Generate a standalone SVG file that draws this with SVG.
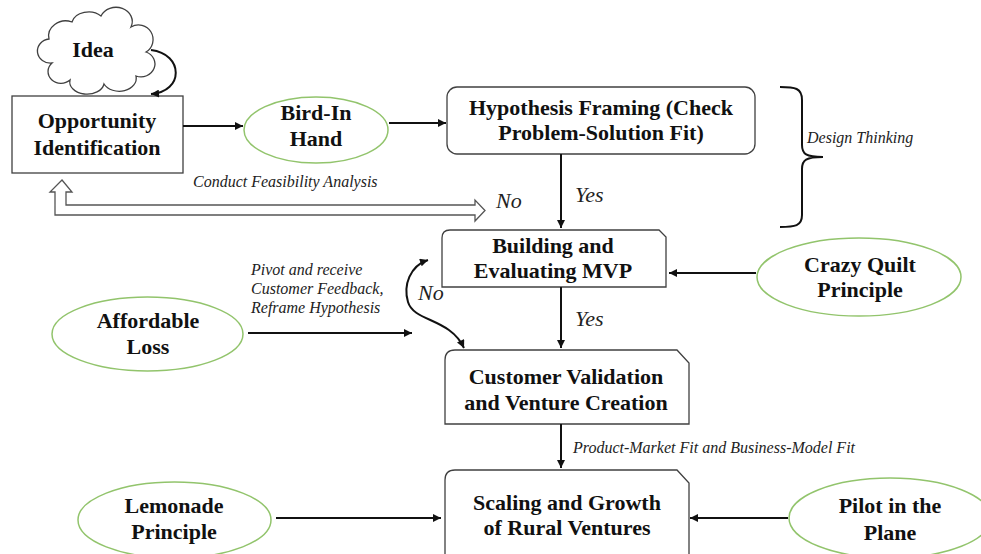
<svg xmlns="http://www.w3.org/2000/svg" width="981" height="554" viewBox="0 0 981 554">
  <style>
    .box { fill: #ffffff; stroke: #404040; stroke-width: 1.3; }
    .oval { fill: #ffffff; stroke: #92c46c; stroke-width: 1.5; }
    .lbl { font-family: "Liberation Serif", "Times New Roman", serif; font-weight: bold; font-size: 22px; fill: #111111; text-anchor: middle; }
    .note { font-family: "Liberation Serif", "Times New Roman", serif; font-style: italic; font-size: 16px; fill: #222222; }
    .big { font-family: "Liberation Serif", "Times New Roman", serif; font-style: italic; font-size: 22px; fill: #222222; }
    .wire { fill: none; stroke: #111111; stroke-width: 2; }
  </style>
  <defs>
    <marker id="ah" viewBox="0 0 10 10" refX="10" refY="5" markerWidth="9" markerHeight="8" markerUnits="userSpaceOnUse" orient="auto-start-reverse">
      <path d="M0,0 L10,5 L0,10 z" fill="#111111"/>
    </marker>
  </defs>

  <rect width="981" height="554" fill="#ffffff"/>

  <!-- Idea cloud -->
  <g id="idea">
    <path class="box" d="M 52 63 A 13 12 0 0 1 49 39 A 17 15 0 0 1 72 22 A 17 13 0 0 1 101 16 A 16 14 0 0 1 131 27 A 14 14 0 0 1 146 52 A 13 12 0 0 1 136 76 A 17 13 0 0 1 104 84 A 17 12 0 0 1 70 80 A 11 10 0 0 1 52 63 Z"/>
    <text class="lbl" x="93" y="57">Idea</text>
  </g>

  <g id="opportunity">
    <rect class="box" x="12" y="96" width="171" height="77"/>
    <text class="lbl" x="97" y="128">Opportunity</text>
    <text class="lbl" x="97" y="155">Identification</text>
  </g>

  <g id="bird-in-hand">
    <ellipse class="oval" cx="316" cy="130" rx="72" ry="33"/>
    <text class="lbl" x="316" y="120">Bird-In</text>
    <text class="lbl" x="316" y="146">Hand</text>
  </g>

  <g id="hypothesis">
    <rect class="box" x="447" y="87" width="308" height="67" rx="10"/>
    <text class="lbl" x="601" y="115">Hypothesis Framing (Check</text>
    <text class="lbl" x="601" y="140">Problem-Solution Fit)</text>
  </g>

  <g id="design-thinking">
    <path fill="none" stroke="#111111" stroke-width="2" d="M 780 87 C 795 87 802 88 802 100 L 802 145 C 802 154 806 157 823 157 C 806 157 802 160 802 169 L 802 215 C 802 226 795 227 780 227"/>
    <text class="note" x="807" y="143">Design Thinking</text>
  </g>

  <g id="mvp">
    <path class="box" d="M 442 287 L 442 238 Q 442 230 450 230 L 659 230 L 666 237 L 666 287 Z"/>
    <text class="lbl" x="553" y="253">Building and</text>
    <text class="lbl" x="553" y="278">Evaluating MVP</text>
  </g>

  <g id="crazy-quilt">
    <ellipse class="oval" cx="859" cy="277" rx="102" ry="39"/>
    <text class="lbl" x="860" y="272">Crazy Quilt</text>
    <text class="lbl" x="860" y="297">Principle</text>
  </g>

  <g id="affordable-loss">
    <ellipse class="oval" cx="147.5" cy="334" rx="95.5" ry="37"/>
    <text class="lbl" x="148" y="328">Affordable</text>
    <text class="lbl" x="148" y="354">Loss</text>
  </g>

  <g id="customer-validation">
    <path class="box" d="M 445 424 L 445 360 Q 445 350 455 350 L 677 350 L 689 363 L 689 424 Z"/>
    <text class="lbl" x="566" y="384">Customer Validation</text>
    <text class="lbl" x="566" y="410">and Venture Creation</text>
  </g>

  <g id="scaling">
    <path class="box" d="M 445 560 L 445 480 Q 445 470 455 470 L 677 470 L 689 483 L 689 560 Z"/>
    <text class="lbl" x="567" y="510">Scaling and Growth</text>
    <text class="lbl" x="567" y="535">of Rural Ventures</text>
  </g>

  <g id="lemonade">
    <ellipse class="oval" cx="174.5" cy="520" rx="96.5" ry="38"/>
    <text class="lbl" x="174" y="513">Lemonade</text>
    <text class="lbl" x="174" y="539">Principle</text>
  </g>

  <g id="pilot">
    <ellipse class="oval" cx="890" cy="518" rx="101" ry="40"/>
    <text class="lbl" x="890" y="513">Pilot in the</text>
    <text class="lbl" x="890" y="540">Plane</text>
  </g>

  <!-- connectors -->
  <g id="connectors">
    <path class="wire" d="M 151 50 C 184 54 184 92 151 94" marker-end="url(#ah)"/>
    <path class="wire" d="M 183 126 H 243" marker-end="url(#ah)"/>
    <path class="wire" d="M 389 123 H 446" marker-end="url(#ah)"/>
    <path class="wire" d="M 561 154 V 228" marker-end="url(#ah)"/>
    <path class="wire" d="M 561 287 V 348" marker-end="url(#ah)"/>
    <path class="wire" d="M 561 424 V 468" marker-end="url(#ah)"/>
    <path class="wire" d="M 756 273 H 669" marker-end="url(#ah)"/>
    <path class="wire" d="M 248 333 H 412" marker-end="url(#ah)"/>
    <path class="wire" d="M 276 518 H 441" marker-end="url(#ah)"/>
    <path class="wire" d="M 788 518 H 690" marker-end="url(#ah)"/>
    <path class="wire" d="M 428 260 C 410 266 403 285 408 302 C 414 322 450 318 464 348" marker-start="url(#ah)" marker-end="url(#ah)"/>
    <!-- hollow feedback arrow back to opportunity identification -->
    <polygon fill="#ffffff" stroke="#555555" stroke-width="1.3" points="62,180 72,192 66,192 66,205 475,205 475,200 485,210.5 475,221 475,215 55,215 55,192 50,192"/>
  </g>

  <!-- connector labels -->
  <text class="note" x="193" y="187">Conduct Feasibility Analysis</text>
  <text class="big" x="496" y="208">No</text>
  <text class="big" x="575" y="202">Yes</text>
  <text class="note" x="251" y="275">Pivot and receive</text>
  <text class="note" x="251" y="294">Customer Feedback,</text>
  <text class="note" x="251" y="313">Reframe Hypothesis</text>
  <text class="big" x="418" y="300">No</text>
  <text class="big" x="575" y="326">Yes</text>
  <text class="note" x="573" y="453">Product-Market Fit and Business-Model Fit</text>
</svg>
